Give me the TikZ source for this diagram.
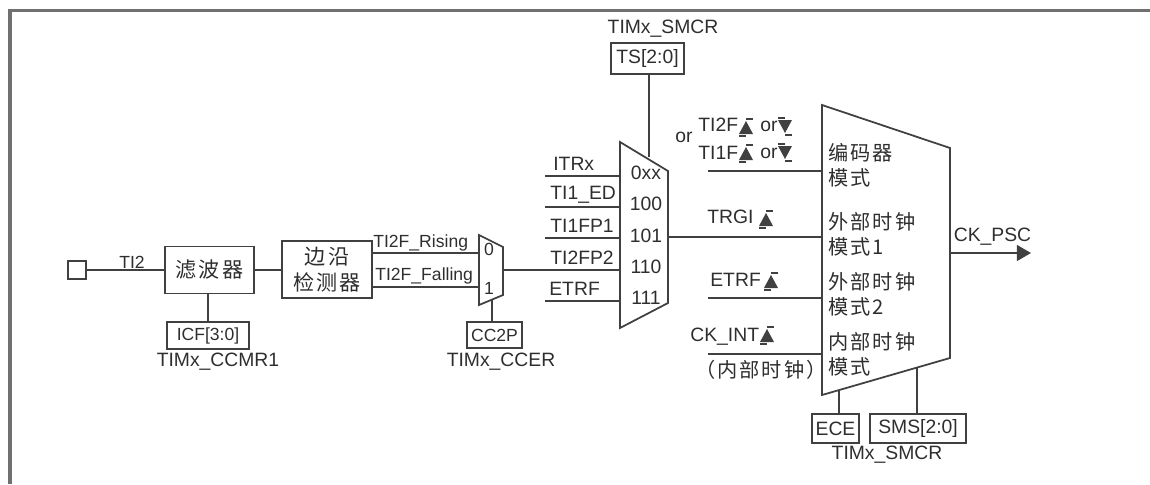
\documentclass[tikz,border=0pt]{standalone}
\usepackage{fontspec}
\setmainfont{Liberation Sans}
\newfontfamily\cjkfont[LetterSpace=10]{Noto Sans CJK SC}
\usepackage{tikz}
\usetikzlibrary{arrows.meta,calc}
\definecolor{TimerLine}{HTML}{404040}
\definecolor{TimerFrame}{HTML}{707070}
\definecolor{TimerText}{HTML}{2E2E2E}
\tikzset{
  wire/.style={TimerLine,line width=1pt},
  boxsize/.style 2 args={minimum width=#1*0.02cm,minimum height=#2*0.02cm},
  blockbox/.style={draw=TimerLine,line width=1pt,inner sep=0pt,text=TimerText,align=center,font=\cjkfont\fontsize{12}{14.8}\selectfont},
  regbox/.style={draw=TimerLine,line width=0.9pt,inner sep=0pt,text=TimerText},
  lbl/.style={inner sep=0pt,font=\fontsize{11}{11}\selectfont,text=TimerText},
  smalllbl/.style={inner sep=0pt,font=\fontsize{10}{10}\selectfont,text=TimerText},
  cjklbl/.style={inner sep=0pt,font=\cjkfont\fontsize{11.5}{14.4}\selectfont,text=TimerText,align=left},
  pics/risemark/.style={code={
    \fill[TimerLine] (-7,7) -- (7,7) -- (0,-6) -- cycle;
    \draw[TimerLine,line width=0.7pt] (-7,9) -- (0,9) (0,-8) -- (7,-8);
  }},
  pics/fallmark/.style={code={
    \fill[TimerLine] (-7,-7) -- (7,-7) -- (0,6) -- cycle;
    \draw[TimerLine,line width=0.7pt] (-7,-9) -- (0,-9) (0,8) -- (7,8);
  }},
}
\begin{document}
\begin{tikzpicture}[x=0.02cm,y=-0.02cm,>=Stealth]
  \useasboundingbox (0,0) rectangle (1150,484);
  \draw[TimerFrame,line width=2pt] (10,484) -- (10,10.5) -- (1150,10.5);

  % input side
  \node[draw=TimerLine,line width=1pt,boxsize={18}{18},inner sep=0pt] (pin) at (77,270) {};
  \node[blockbox,boxsize={89}{47}] (filter) at (209.5,270) {滤波器};
  \node[blockbox,boxsize={90}{57}] (edge) at (327,269.5) {边沿\\检测器};
  \node[regbox,smalllbl,boxsize={82}{27}] (icf) at (208,335.5) {ICF[3:0]};
  \node[lbl] (ccmr) at (218,362) {TIMx\_CCMR1};
  \node[smalllbl] (ti2) at (132,262) {TI2};
  \draw[wire] (pin) -- (pin -| filter.west);
  \draw[wire] (filter) -- (filter -| edge.west);
  \draw[wire] (icf.north) -- (icf.north |- filter.south);
  \node[smalllbl,anchor=west] (rising) at (373,243) {TI2F\_Rising};
  \node[smalllbl,anchor=west] (falling) at (375,276) {TI2F\_Falling};

  % polarity mux
  \coordinate (p1) at (479,235);
  \coordinate (p2) at (503,247);
  \coordinate (p3) at (503,295);
  \coordinate (p4) at (479,305);
  \draw[wire] (p1) -- (p2) -- (p3) -- (p4) -- cycle;
  \node[smalllbl] (sel0) at (489,249) {0};
  \node[smalllbl] (sel1) at (489,288) {1};
  \draw[wire] (edge.east |- 0,253) -- (479,253);
  \draw[wire] (edge.east |- 0,287) -- (479,287);
  \node[regbox,smalllbl,boxsize={55}{26}] (ccp) at (494.5,335) {CC2P};
  \node[lbl] (ccer) at (501,362) {TIMx\_CCER};
  \draw[wire] (ccp.north -| 492,0) -- (492,299);

  % trigger mux
  \coordinate (m1) at (620,142);
  \coordinate (m2) at (668,171);
  \coordinate (m3) at (668,303);
  \coordinate (m4) at (620,328);
  \draw[wire] (m1) -- (m2) -- (m3) -- (m4) -- cycle;
  \foreach \name/\code/\wy/\ty/\cy/\lx [count=\i] in {ITRx/0xx/176/164/173/553,TI1\_ED/100/207/195/204/550,TI1FP1/101/238/226/236/550,TI2FP2/110/270/258/267/550,ETRF/111/301/289/298/549}{
    \coordinate (in\i) at (545,\wy);
    \draw[wire] (in\i) -- (in\i -| m1);
    \node[lbl,anchor=west] (name\i) at (\lx,\ty) {\name};
    \node[lbl] (code\i) at (646,\cy) {\code};
  }
  \draw[wire] (in4 -| p2) -- (in4);
  \node[regbox,lbl,boxsize={73}{31}] (ts) at (647.5,58.5) {TS[2:0]};
  \node[lbl] (smcrtop) at (663,29) {TIMx\_SMCR};
  \draw[wire] (ts.south -| 649,0) -- (649,157);

  % clock mode selector
  \coordinate (s1) at (822,105);
  \coordinate (s2) at (950,148);
  \coordinate (s3) at (950,358);
  \coordinate (s4) at (822,395);
  \draw[wire] (s1) -- (s2) -- (s3) -- (s4) -- cycle;
  \node[cjklbl,anchor=west] (enc) at (828,165.5) {编码器\\模式};
  \node[cjklbl,anchor=west] (ext1) at (828,234.5) {外部时钟\\模式1};
  \node[cjklbl,anchor=west] (ext2) at (828,294) {外部时钟\\模式2};
  \node[cjklbl,anchor=west] (intl) at (828,354) {内部时钟\\模式};

  \coordinate (c1) at (708,171);
  \coordinate (c3) at (708,298);
  \coordinate (c4) at (708,354);
  \draw[wire] (c1) -- (c1 -| s1);
  \draw[wire] (m2 |- 0,237) -- (s1 |- 0,237);
  \draw[wire] (c3) -- (c3 -| s1);
  \draw[wire] (c4) -- (c4 -| s1);

  \node[lbl] (orl) at (684,137) {or};
  \node[lbl,anchor=west] (tf2) at (698,125) {TI2F};
  \pic at (746,127) {risemark};
  \node[lbl,anchor=west] (or2) at (760,126) {or};
  \pic at (785,127) {fallmark};
  \node[lbl,anchor=west] (tf1) at (698,153) {TI1F};
  \pic at (746,153) {risemark};
  \node[lbl,anchor=west] (or1) at (760,153) {or};
  \pic at (785,153) {fallmark};
  \node[lbl,anchor=west] (trgi) at (707,217) {TRGI};
  \pic at (766,219) {risemark};
  \node[lbl,anchor=west] (etrf) at (710,280) {ETRF};
  \pic at (771,281) {risemark};
  \node[lbl,anchor=west] (ckint) at (690,337) {CK\_INT};
  \pic at (767,335) {risemark};
  \node[cjklbl] (intclk) at (761,370) {（内部时钟）};

  \node[regbox,lbl,boxsize={47}{29}] (ece) at (835.5,428.5) {ECE};
  \node[regbox,lbl,boxsize={96}{29}] (sms) at (918,428.5) {SMS[2:0]};
  \node[lbl] (smcrbot) at (887,455) {TIMx\_SMCR};
  \draw[wire] (ece.north -| 839,0) -- (839,390);
  \draw[wire] (sms.north -| 917,0) -- (917,368);

  \node[lbl] (ckpsc) at (992.5,237) {CK\_PSC};
  \coordinate (ckend) at (1031,253);
  \draw[wire,-{Triangle[length=8pt,width=9pt]}] (s2 |- ckend) -- (ckend);
\end{tikzpicture}
\end{document}
